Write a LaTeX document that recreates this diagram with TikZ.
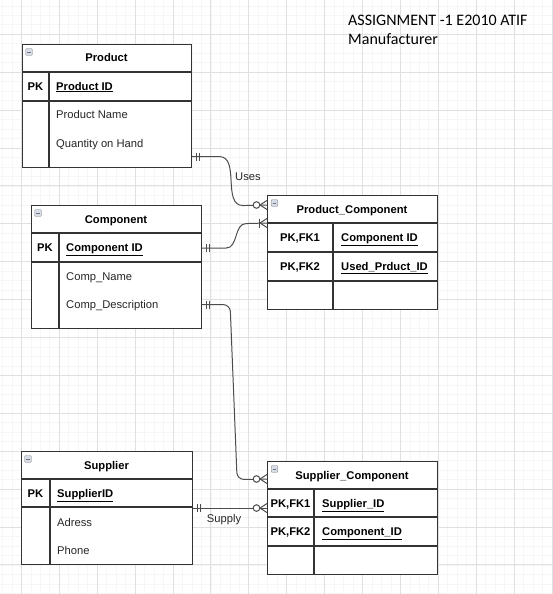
\documentclass[tikz,border=0pt]{standalone}
\usepackage{fontspec}
\setmainfont{Liberation Sans}
\newfontfamily\titlefont{Carlito}
\usetikzlibrary{positioning}
\definecolor{iconfill}{RGB}{214,221,233}
\definecolor{gridminor}{RGB}{246,246,246}
\definecolor{gridmajor}{RGB}{224,224,224}

\begin{document}
\begin{tikzpicture}[x=1pt,y=-1pt,
  minor/.style={draw=gridminor,line width=0.5pt},
  major/.style={draw=gridmajor,line width=0.8pt},
  tbl/.style={draw=black!80,fill=white,line width=1.1pt,anchor=north west},
  tline/.style={draw=black!80,line width=1.1pt},
  rel/.style={draw=black!70,line width=1pt},
  icon/.style={draw=black!55,fill=iconfill,minimum size=6.5pt,rounded corners=0.6pt,
    path picture={\draw[line width=0.8pt] ([xshift=1.4pt]path picture bounding box.west) -- ([xshift=-1.4pt]path picture bounding box.east);}},
  txt/.style={text height=8pt,text depth=0pt,font=\fontsize{11.2}{13}\selectfont},
  hdr/.style={txt,font=\fontsize{11.2}{13}\selectfont\bfseries},
  pk/.style={txt,font=\fontsize{11.2}{13}\selectfont\bfseries},
  key/.style={txt,anchor=west,font=\fontsize{11.2}{13}\selectfont\bfseries},
  attr/.style={txt,anchor=west,text=black!85},
  lbl/.style={txt,text=black!85},
  title/.style={anchor=base west,font=\titlefont\fontsize{16}{19}\selectfont}]
\tikzstyle{every node}+=[inner sep=0pt]
\useasboundingbox (0,0) rectangle (553,594);
\fill[white] (0,0) rectangle (553,594);
% grid
\foreach \k in {0,...,58} \draw[minor] ({2.35+\k*9.475},0) -- ++(0,594);
\foreach \k in {0,...,62} \draw[minor] (0,{5.8+\k*9.475}) -- ++(553,0);
\foreach \k in {0,...,14} \draw[major] ({21.3+\k*37.9},0) -- ++(0,594);
\foreach \k in {0,...,14} \draw[major] (0,{34.2+\k*37.9}) -- ++(553,0);

\node[title] (title1) at (348,26) {ASSIGNMENT -1 E2010 ATIF};
\node[title] (title2) at (348,45) {Manufacturer};

% Product
\node[tbl,minimum width=169pt,minimum height=123pt] (product) at (22,44) {};
\draw[tline] (22,72) -- (191,72);
\draw[tline] (22,101) -- (191,101);
\draw[tline] (49,72) -- (49,167);
\node[icon] (producticon) at (29,52) {};
\node[hdr] (producthd) at (106.5,58) {Product};
\node[pk] (productpk) at (35.5,86) {PK};
\node[key] (productid) at (56,86) {\underline{Product ID}};
\node[attr] (productname) at (56,114.5) {Product Name};
\node[attr] (productqty) at (56,143) {Quantity on Hand};

% Component
\node[tbl,minimum width=170pt,minimum height=123pt] (component) at (31,205) {};
\draw[tline] (31,233) -- (201,233);
\draw[tline] (31,262) -- (201,262);
\draw[tline] (59,233) -- (59,328);
\node[icon] (componenticon) at (38,213) {};
\node[hdr] (componenthd) at (116,219) {Component};
\node[pk] (componentpk) at (45,247.5) {PK};
\node[key] (componentid) at (66,247.5) {\underline{Component ID}};
\node[attr] (componentname) at (66,276) {Comp\_Name};
\node[attr] (componentdesc) at (66,304) {Comp\_Description};

% Supplier
\node[tbl,minimum width=171pt,minimum height=113pt] (supplier) at (21,451) {};
\draw[tline] (21,479) -- (192,479);
\draw[tline] (21,507) -- (192,507);
\draw[tline] (50,479) -- (50,564);
\node[icon] (suppliericon) at (28,459) {};
\node[hdr] (supplierhd) at (106.5,465) {Supplier};
\node[pk] (supplierpk) at (35.5,493) {PK};
\node[key] (supplierid) at (57,493) {\underline{SupplierID}};
\node[attr] (supplieraddr) at (57,522) {Adress};
\node[attr] (supplierphone) at (57,550.5) {Phone};

% Product_Component
\node[tbl,minimum width=170pt,minimum height=114pt] (prodcomp) at (267,195) {};
\draw[tline] (267,223) -- (437,223);
\draw[tline] (267,252) -- (437,252);
\draw[tline] (267,281) -- (437,281);
\draw[tline] (333,223) -- (333,309);
\node[icon] (prodcompicon) at (274.5,203) {};
\node[hdr] (prodcomphd) at (352,209) {Product\_Component};
\node[pk] (prodcompfk1) at (300,237.5) {PK,FK1};
\node[pk] (prodcompfk2) at (300,266.5) {PK,FK2};
\node[key] (prodcompcid) at (341,237.5) {\underline{Component ID}};
\node[key] (prodcomppid) at (341,266.5) {\underline{Used\_Prduct\_ID}};

% Supplier_Component
\node[tbl,minimum width=170pt,minimum height=113pt] (suppcomp) at (267,461) {};
\draw[tline] (267,489) -- (437,489);
\draw[tline] (267,517) -- (437,517);
\draw[tline] (267,546) -- (437,546);
\draw[tline] (314,489) -- (314,574);
\node[icon] (suppcompicon) at (274.5,469) {};
\node[hdr] (suppcomphd) at (352,475) {Supplier\_Component};
\node[pk] (suppcompfk1) at (290.5,503) {PK,FK1};
\node[pk] (suppcompfk2) at (290.5,531.5) {PK,FK2};
\node[key] (suppcompsid) at (322,503) {\underline{Supplier\_ID}};
\node[key] (suppcompcid) at (322,531.5) {\underline{Component\_ID}};

% relationships
\coordinate (usesa) at ([yshift=-50.5pt]product.east);
\coordinate (usesb) at ([yshift=-10pt]prodcomp.north west);
\coordinate (compa) at ([yshift=19pt]component.east);
\coordinate (compb) at ([yshift=-28pt]prodcomp.north west);
\coordinate (desca) at ([yshift=-37.5pt]component.east);
\coordinate (descb) at ([yshift=-18pt]suppcomp.north west);
\coordinate (supa) at (supplier.east);
\coordinate (supb) at ([yshift=10pt]suppcomp.west);

\draw[rel] (usesa) -- ++(27,0) to[out=0,in=180] ++(24,49) -- (usesb);
\draw[rel] (compa) -- ++(24,0) to[out=0,in=180] ++(20,-24.5) -- (compb);
\draw[rel,rounded corners=7pt] (desca) -- ++(28,0) -- ++(7,175) -- (descb);
\draw[rel] (supa) -- (supb);
\node[lbl] (useslbl) at (248,176) {Uses};
\node[lbl] (supplylbl) at (224,518) {Supply};

% one and only one
\foreach \c in {usesa,compa,desca,supa}
  \draw[rel] (\c) ++(4,-4) -- ++(0,8) (\c) ++(7,-4) -- ++(0,8);
% zero or many
\foreach \c in {usesb,descb,supb} {
  \draw[rel] (\c) ++(-7,0) -- ++(7,-4.5) (\c) ++(-7,0) -- ++(7,4.5);
  \draw[rel,fill=white] (\c) ++(-10.5,0) circle (3.3);
}
% one or many
\draw[rel] (compb) ++(-7,0) -- ++(7,-4.5) (compb) ++(-7,0) -- ++(7,4.5);
\draw[rel] (compb) ++(-7.5,-4.5) -- ++(0,9);
\end{tikzpicture}
\end{document}
